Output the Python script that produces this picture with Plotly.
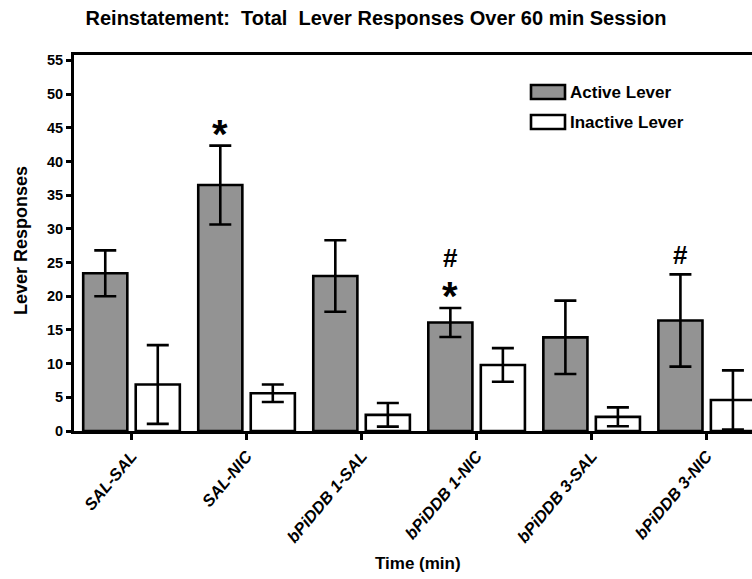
import plotly.graph_objects as go

# ---------------- data ----------------
groups = ["SAL-SAL", "SAL-NIC", "bPiDDB 1-SAL", "bPiDDB 1-NIC", "bPiDDB 3-SAL", "bPiDDB 3-NIC"]
active_mean = [23.4, 36.5, 23.0, 16.1, 13.9, 16.4]
active_err = [3.4, 5.85, 5.3, 2.15, 5.45, 6.85]
inactive_mean = [6.9, 5.6, 2.4, 9.8, 2.1, 4.6]
inactive_err = [5.85, 1.3, 1.75, 2.5, 1.4, 4.4]
sig_marks = [[], ["*"], [], ["*", "#"], [], ["#"]]  # bottom-up stacking above active bars
y_ticks = [0, 5, 10, 15, 20, 25, 30, 35, 40, 45, 50, 55]

# ---------------- style ----------------
FONT = "Liberation Sans, Arial, sans-serif"
GRAY = "#939393"
W, H = 752, 579
ML, MR, MT, MB = 74, 0, 55, 148
BARGAP, GROUPGAP = 0.087, 0.16
XRANGE = [-0.5, 5.394]
YRANGE = [0, 55.8]

plot_w = W - ML - MR
plot_h = H - MT - MB


def px_x(px):
    return (px - ML) / plot_w


def px_y(py):
    return (H - MB - py) / plot_h


err_style = dict(type="data", visible=True, color="black", thickness=2.6, width=11)
fig = go.Figure()
fig.add_trace(go.Bar(
    x=groups, y=active_mean, name="Active Lever",
    marker=dict(color=GRAY, line=dict(color="black", width=2.6)),
    error_y=dict(array=active_err, **err_style),
))
fig.add_trace(go.Bar(
    x=groups, y=inactive_mean, name="Inactive Lever",
    marker=dict(color="white", line=dict(color="black", width=2.6)),
    error_y=dict(array=inactive_err, **err_style),
))

annotations = []
# significance markers above the active bars
active_offset = -(1 - BARGAP) / 4
for i, marks in enumerate(sig_marks):
    top = active_mean[i] + active_err[i]
    for k, m in enumerate(marks):
        if m == "*":
            size, ys = 40, -12
        else:
            size, ys = 26, (2 if k == 0 else 33)
        annotations.append(dict(
            x=i + active_offset, y=top, xref="x", yref="y",
            text=f"<b>{m}</b>", showarrow=False,
            yanchor="bottom", xanchor="center", yshift=ys,
            font=dict(family=FONT, size=size, color="black"),
        ))

# manual legend
legend_items = [("Active Lever", GRAY, 85, 99), ("Inactive Lever", "white", 115, 129)]
shapes = []
for label, color, y0, y1 in legend_items:
    shapes.append(dict(
        type="rect", xref="paper", yref="paper",
        x0=px_x(531), x1=px_x(565), y0=px_y(y1), y1=px_y(y0),
        fillcolor=color, line=dict(color="black", width=2.6),
    ))
    annotations.append(dict(
        x=px_x(568), y=px_y((y0 + y1) / 2), xref="paper", yref="paper",
        text=f"<b>{label}</b>", showarrow=False, xanchor="left", yanchor="middle",
        font=dict(family=FONT, size=17, color="black"),
    ))

# axis titles
annotations.append(dict(
    x=px_x(418), y=px_y(563), xref="paper", yref="paper",
    text="<b>Time (min)</b>", showarrow=False, xanchor="center", yanchor="middle",
    font=dict(family=FONT, size=17, color="black"),
))
annotations.append(dict(
    x=px_x(21), y=px_y(240), xref="paper", yref="paper",
    text="<b>Lever Responses</b>", showarrow=False, xanchor="center", yanchor="middle",
    textangle=-90, font=dict(family=FONT, size=18, color="black"),
))

fig.update_layout(
    width=W, height=H,
    margin=dict(l=ML, r=MR, t=MT, b=MB, pad=0),
    paper_bgcolor="white", plot_bgcolor="white",
    barmode="group", bargap=BARGAP, bargroupgap=GROUPGAP,
    showlegend=False,
    title=dict(
        text="<b>Reinstatement:  Total  Lever Responses Over 60 min Session</b>",
        x=0.5, xanchor="center", y=1 - 18 / H, yanchor="middle", yref="container",
        font=dict(family=FONT, size=20, color="black"),
    ),
    xaxis=dict(
        range=XRANGE, showgrid=False, zeroline=False,
        showline=True, linecolor="black", linewidth=3, mirror=True,
        ticks="outside", ticklen=6, tickwidth=3, tickcolor="black",
        tickangle=-50, automargin=False,
        tickfont=dict(family=FONT, size=16.5, color="black", weight="bold", style="italic"),
    ),
    yaxis=dict(
        range=YRANGE, tickvals=y_ticks, showgrid=False, zeroline=False,
        showline=True, linecolor="black", linewidth=3, mirror=False,
        ticks="outside", ticklen=5, tickwidth=3, tickcolor="black", automargin=False,
        tickfont=dict(family=FONT, size=14.5, color="black", weight="bold"),
    ),
    annotations=annotations,
    shapes=shapes,
)

fig.write_html("out.html")
